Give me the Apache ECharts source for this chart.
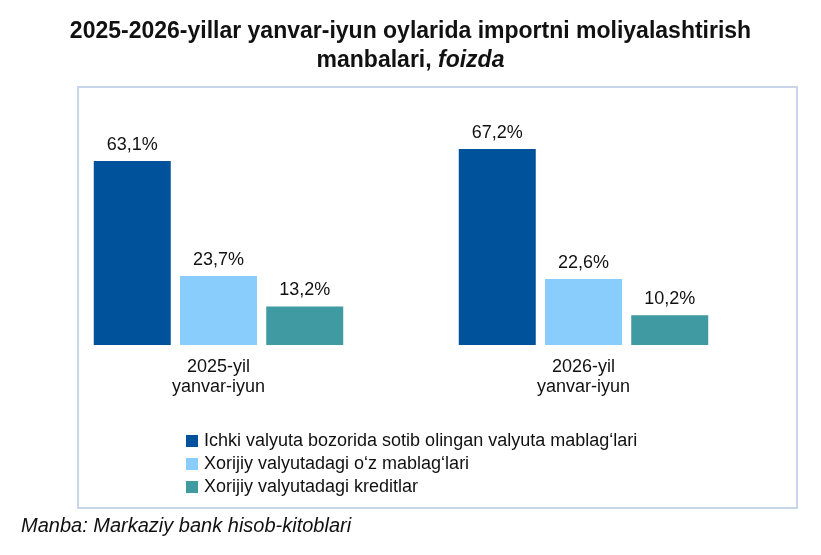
<!DOCTYPE html>
<html>
<head>
<meta charset="utf-8">
<script src="https://cdn.jsdelivr.net/npm/echarts@6/dist/echarts.min.js"></script>
<style>
  html, body { margin: 0; padding: 0; background: #fff; }
  #chart { width: 821px; height: 555px; }
</style>
</head>
<body>
<div id="chart"></div>
<script>
// data
const categories = ['2025-yil\nyanvar-iyun', '2026-yil\nyanvar-iyun'];
const seriesNames = [
    'Ichki valyuta bozorida sotib olingan valyuta mablag‘lari',
    'Xorijiy valyutadagi o‘z mablag‘lari',
    'Xorijiy valyutadagi kreditlar'
];
const domesticMarket = [63.1, 67.2];
const ownFunds = [23.7, 22.6];
const credits = [13.2, 10.2];
const seriesColors = ['#00529b', '#88cdfc', '#3f9aa1'];

const font = '"Liberation Sans", Arial, sans-serif';

const chart = echarts.init(document.getElementById('chart'));

const makeSeries = (name, data, color) => ({
    name: name,
    type: 'bar',
    data: data,
    barWidth: 77,
    barGap: '12%',
    barCategoryGap: '32%',
    itemStyle: { color: color },
    label: {
        show: true,
        position: 'top',
        distance: 7,
        fontFamily: font,
        fontSize: 18,
        color: '#111',
        formatter: p => p.value.toFixed(1).replace('.', ',') + '%'
    }
});

const option = {
    animation: false,
    title: {
        text: '{b|2025-2026-yillar yanvar-iyun oylarida importni moliyalashtirish}\n{b|manbalari, }{i|foizda}',
        left: 'center',
        top: 12,
        textStyle: {
            rich: {
                b: { fontFamily: font, fontSize: 23, fontWeight: 'bold', color: '#111', lineHeight: 29 },
                i: { fontFamily: font, fontSize: 23, fontStyle: 'italic', color: '#111', lineHeight: 29 }
            }
        }
    },
    legend: {
        orient: 'vertical',
        left: 181,
        top: 427,
        itemWidth: 12,
        itemHeight: 12,
        itemGap: 5,
        icon: 'rect',
        data: seriesNames,
        textStyle: { fontFamily: font, fontSize: 18, lineHeight: 18, color: '#111', padding: [0, 0, 0, 1] }
    },
    grid: {
        left: 36,
        right: 55,
        top: 100,
        bottom: 210
    },
    xAxis: {
        type: 'category',
        data: categories,
        axisLine: { show: false },
        axisTick: { show: false },
        axisLabel: {
            margin: 12,
            fontFamily: font,
            fontSize: 18,
            lineHeight: 20,
            color: '#111'
        }
    },
    yAxis: {
        type: 'value',
        min: 0,
        max: 84,
        show: false
    },
    graphic: [
        {
            type: 'rect',
            shape: { x: 78, y: 87, width: 719, height: 421 },
            style: { fill: 'none', stroke: '#c9d5e8', lineWidth: 2 },
            z: -1
        },
        {
            type: 'text',
            left: 21,
            top: 516,
            style: {
                text: 'Manba: Markaziy bank hisob-kitoblari',
                font: 'italic 20px ' + font,
                fill: '#111'
            }
        }
    ],
    series: [
        makeSeries(seriesNames[0], domesticMarket, seriesColors[0]),
        makeSeries(seriesNames[1], ownFunds, seriesColors[1]),
        makeSeries(seriesNames[2], credits, seriesColors[2])
    ]
};

chart.setOption(option);
</script>
</body>
</html>
